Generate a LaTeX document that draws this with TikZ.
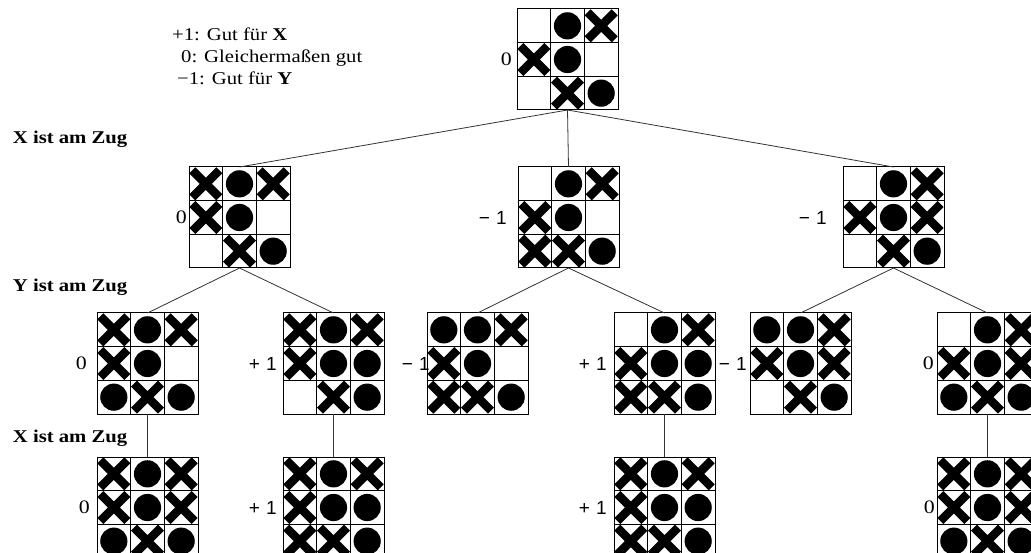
\documentclass[tikz,border=0pt]{standalone}
\usepackage{fontspec}
\setmainfont{Liberation Serif}
\newfontfamily\stretchserif[FakeStretch=1.15]{Liberation Serif}
\newfontfamily\valsans{Liberation Sans}
\tikzset{
  gridline/.style={line width=1pt, draw=black},
  xmark/.style={line width=8.5pt, line cap=butt},
  conn/.style={line width=0.8pt, draw=black!80},
  boardnode/.style={minimum width=101pt, minimum height=101pt, inner sep=0pt, outer sep=0pt},
  vlabel/.style={inner sep=0pt, anchor=east, font=\stretchserif\fontsize{19}{21}\selectfont},
  slabel/.style={inner sep=0pt, anchor=east, font=\valsans\fontsize{19}{21}\selectfont},
  zug/.style={anchor=west, inner sep=0pt, font=\stretchserif\bfseries\fontsize{18}{20}\selectfont},
  legend/.style={anchor=base west, inner sep=0pt, font=\stretchserif\fontsize{18}{20}\selectfont},
}
\newcommand\tttboard[5]{%
  \node[boardnode] (#1) at ({#2+50.5},{#3+50.5}) {};
  \begin{scope}[shift={(#2,#3)}]
    \foreach \cx/\ry in {#4} {
      \draw[xmark] ({\cx*33.667+3.3},{\ry*33.667+3.3}) -- ++(27.067,27.067)
                   ({\cx*33.667+30.367},{\ry*33.667+3.3}) -- ++(-27.067,27.067);
    }
    \foreach \cx/\ry in {#5} {
      \fill ({\cx*33.667+16.833},{\ry*33.667+16.833}) circle[radius=13.6pt];
    }
    \draw[gridline] (0,0) rectangle (101,101)
      (33.667,0) -- (33.667,101) (67.333,0) -- (67.333,101)
      (0,33.667) -- (101,33.667) (0,67.333) -- (101,67.333);
  \end{scope}
}
\begin{document}
\begin{tikzpicture}[x=1pt, y=-1pt]
\useasboundingbox (0,0) rectangle (1031,553);
\clip (0,0) rectangle (1031,553);
\fill[white] (0,0) rectangle (1031,553);

% legend
\node[legend] (leg1) at (172,41) {+1: Gut für \textbf{X}};
\node[legend] (leg2) at (181,63) {0: Gleichermaßen gut};
\node[legend] (leg3) at (177,85) {−1: Gut für \textbf{Y}};

% turn labels
\node[zug] (z1) at (12.7,139) {X ist am Zug};
\node[zug] (z2) at (12.7,287) {Y ist am Zug};
\node[zug] (z3) at (12.7,438) {X ist am Zug};

% boards: name, left, top, X cells (col/row), O cells
\tttboard{R}{517}{9}{2/0,0/1,1/2}{1/0,1/1,2/2}
\tttboard{La}{189}{167}{0/0,2/0,0/1,1/2}{1/0,1/1,2/2}
\tttboard{Lb}{518}{167}{2/0,0/1,0/2,1/2}{1/0,1/1,2/2}
\tttboard{Lc}{843}{167}{2/0,0/1,2/1,1/2}{1/0,1/1,2/2}
\tttboard{Ba}{97}{313}{0/0,2/0,0/1,1/2}{1/0,1/1,0/2,2/2}
\tttboard{Bb}{283}{313}{0/0,2/0,0/1,1/2}{1/0,1/1,2/1,2/2}
\tttboard{Bc}{427}{313}{2/0,0/1,0/2,1/2}{0/0,1/0,1/1,2/2}
\tttboard{Bd}{614}{313}{2/0,0/1,0/2,1/2}{1/0,1/1,2/1,2/2}
\tttboard{Be}{750}{313}{2/0,0/1,2/1,1/2}{0/0,1/0,1/1,2/2}
\tttboard{Bf}{937}{313}{2/0,0/1,2/1,1/2}{1/0,1/1,0/2,2/2}
\tttboard{Ca}{97}{457}{0/0,2/0,0/1,2/1,1/2}{1/0,1/1,0/2,2/2}
\tttboard{Cb}{283}{457}{0/0,2/0,0/1,0/2,1/2}{1/0,1/1,2/1,2/2}
\tttboard{Cc}{614}{457}{0/0,2/0,0/1,0/2,1/2}{1/0,1/1,2/1,2/2}
\tttboard{Cd}{937}{457}{0/0,2/0,0/1,2/1,1/2}{1/0,1/1,0/2,2/2}

% value labels
\node[vlabel] (Rv)  at ([xshift=-5pt]R.west)  {0};
\node[vlabel] (Lav) at ([xshift=-2pt]La.west) {0};
\node[slabel] (Lbv) at ([xshift=-11pt]Lb.west) {−\,\,1};
\node[slabel] (Lcv) at ([xshift=-16pt]Lc.west) {−\,\,1};
\node[vlabel] (Bav) at ([xshift=-10pt]Ba.west) {0};
\node[slabel] (Bbv) at ([xshift=-6pt]Bb.west) {+\,\,1};
\node[slabel] (Bcv) at ([xshift=3pt]Bc.west) {−\,\,1};
\node[slabel] (Bdv) at ([xshift=-7pt]Bd.west) {+\,\,1};
\node[slabel] (Bev) at ([xshift=-3pt]Be.west) {−\,\,1};
\node[vlabel] (Bfv) at ([xshift=-3pt]Bf.west) {0};
\node[vlabel] (Cav) at ([xshift=-7pt]Ca.west) {0};
\node[slabel] (Cbv) at ([xshift=-6pt]Cb.west) {+\,\,1};
\node[slabel] (Ccv) at ([xshift=-7pt]Cc.west) {+\,\,1};
\node[vlabel] (Cdv) at ([xshift=-2pt]Cd.west) {0};

% connectors
\draw[conn] (R.south) -- (La.north);
\draw[conn] (R.south) -- (Lb.north);
\draw[conn] (R.south) -- (Lc.north);
\draw[conn] (La.south) -- (Ba.north);
\draw[conn] (La.south) -- (Bb.north);
\draw[conn] (Lb.south) -- (Bc.north);
\draw[conn] (Lb.south) -- (Bd.north);
\draw[conn] (Lc.south) -- (Be.north);
\draw[conn] (Lc.south) -- (Bf.north);
\draw[conn] (Ba.south) -- (Ca.north);
\draw[conn] (Bb.south) -- (Cb.north);
\draw[conn] (Bd.south) -- (Cc.north);
\draw[conn] (Bf.south) -- (Cd.north);
\end{tikzpicture}
\end{document}
